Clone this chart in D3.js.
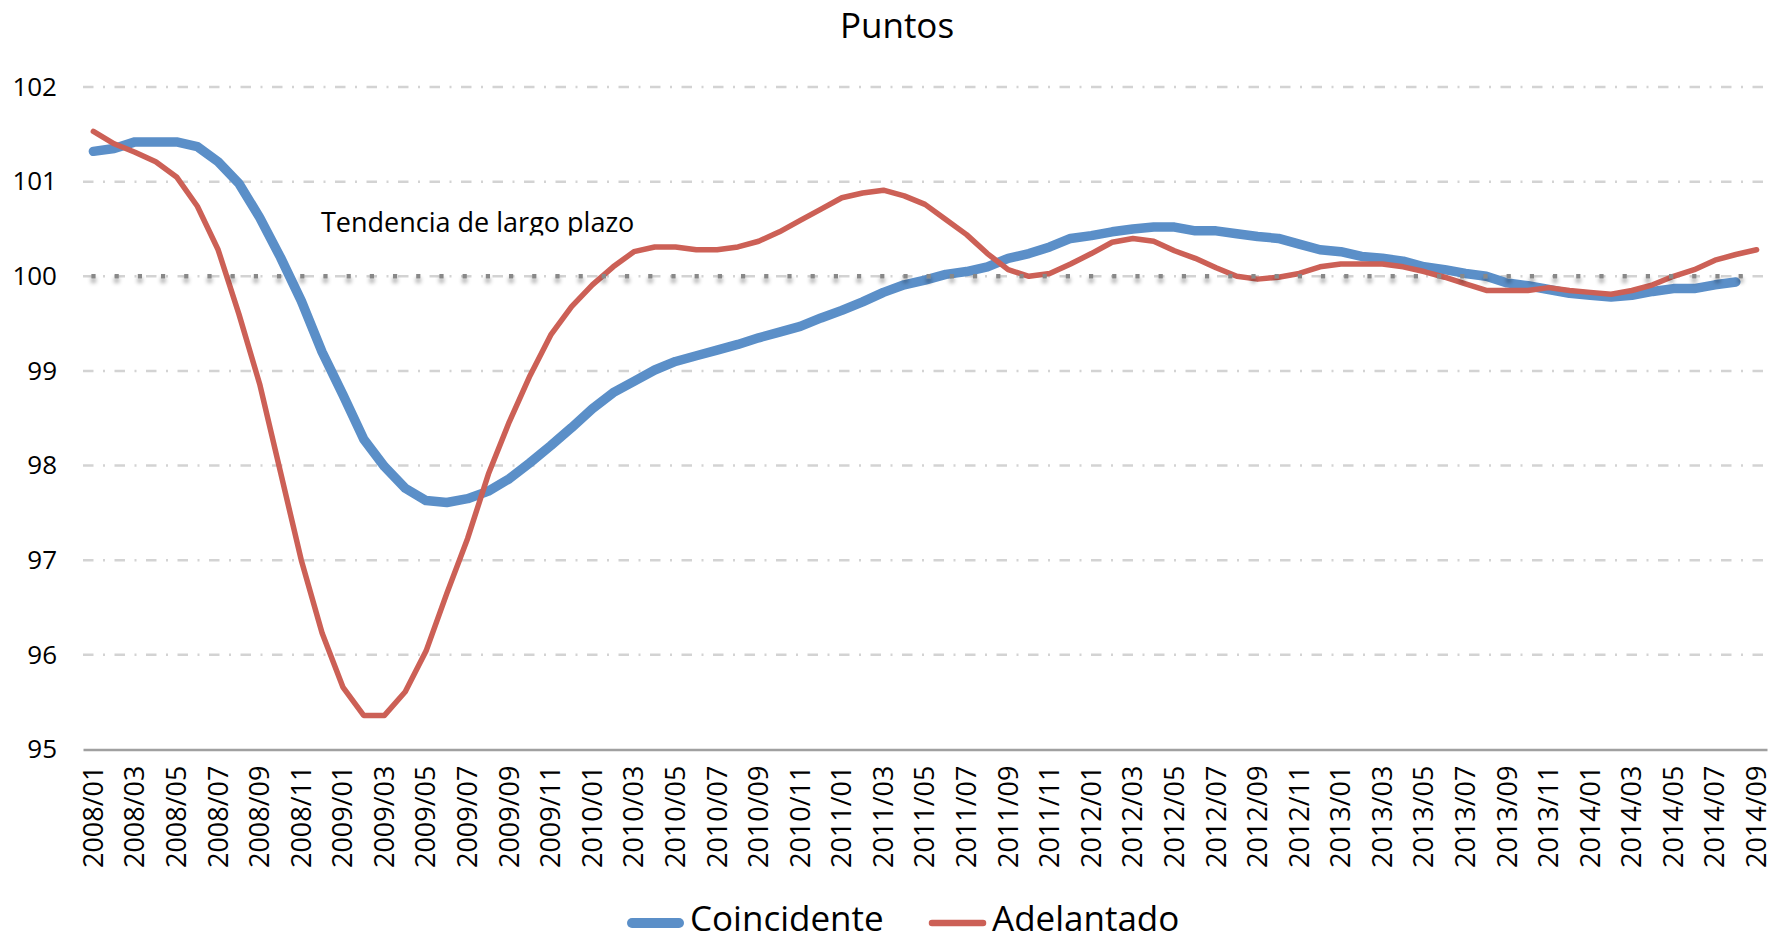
<!DOCTYPE html>
<html>
<head>
<meta charset="utf-8">
<script src="https://cdn.jsdelivr.net/npm/d3@7"></script>
<style>
  html, body { margin: 0; padding: 0; background: #fff; }
  svg { display: block; font-family: "Open Sans", sans-serif; }
</style>
</head>
<body>
<svg id="chart" width="1788" height="942"></svg>
<script>
// Monthly categories, 2008/01 – 2014/09
const months = [
  "2008/01","2008/02","2008/03","2008/04","2008/05","2008/06","2008/07","2008/08","2008/09","2008/10","2008/11","2008/12",
  "2009/01","2009/02","2009/03","2009/04","2009/05","2009/06","2009/07","2009/08","2009/09","2009/10","2009/11","2009/12",
  "2010/01","2010/02","2010/03","2010/04","2010/05","2010/06","2010/07","2010/08","2010/09","2010/10","2010/11","2010/12",
  "2011/01","2011/02","2011/03","2011/04","2011/05","2011/06","2011/07","2011/08","2011/09","2011/10","2011/11","2011/12",
  "2012/01","2012/02","2012/03","2012/04","2012/05","2012/06","2012/07","2012/08","2012/09","2012/10","2012/11","2012/12",
  "2013/01","2013/02","2013/03","2013/04","2013/05","2013/06","2013/07","2013/08","2013/09","2013/10","2013/11","2013/12",
  "2014/01","2014/02","2014/03","2014/04","2014/05","2014/06","2014/07","2014/08","2014/09"
];

// Composite indicator, coincident (ends 2014/08)
const coincidente = [
  101.32,101.35,101.42,101.42,101.42,101.37,101.21,100.98,100.62,100.20,
  99.74,99.20,98.75,98.28,97.99,97.76,97.63,97.61,97.65,97.73,
  97.86,98.03,98.21,98.40,98.60,98.77,98.89,99.01,99.10,99.16,
  99.22,99.28,99.35,99.41,99.47,99.56,99.64,99.73,99.83,99.91,
  99.96,100.02,100.05,100.10,100.19,100.24,100.31,100.40,100.43,100.47,
  100.50,100.52,100.52,100.48,100.48,100.45,100.42,100.40,100.34,100.28,
  100.26,100.21,100.19,100.16,100.10,100.07,100.03,100.00,99.93,99.90,
  99.86,99.82,99.80,99.78,99.80,99.84,99.87,99.87,99.91,99.94
];

// Composite indicator, leading (ends 2014/09)
const adelantado = [
  101.53,101.40,101.31,101.21,101.05,100.74,100.28,99.60,98.86,97.93,
  97.00,96.23,95.66,95.36,95.36,95.61,96.04,96.65,97.23,97.91,
  98.46,98.95,99.38,99.68,99.91,100.10,100.26,100.31,100.31,100.28,
  100.28,100.31,100.37,100.47,100.59,100.71,100.83,100.88,100.91,100.85,
  100.76,100.60,100.44,100.24,100.07,100.00,100.03,100.13,100.24,100.36,
  100.40,100.37,100.27,100.19,100.09,100.00,99.97,99.99,100.03,100.10,
  100.13,100.13,100.13,100.10,100.05,99.99,99.92,99.85,99.85,99.85,
  99.88,99.85,99.83,99.81,99.85,99.91,100.00,100.07,100.17,100.23,
  100.28
];

// Long-run trend level
const trendLevel = 100;

const yTicks = [95, 96, 97, 98, 99, 100, 101, 102];
const xTickLabels = months.filter((m, i) => i % 2 === 0);

const seriesNames = ["Coincidente", "Adelantado"];
const colors = { Coincidente: "#5b8fc8", Adelantado: "#cc6056" };

const plot = { left: 83, right: 1767, top: 87, bottom: 749.5 };

const svg = d3.select("#chart");

const x = d3.scaleBand().domain(months).range([plot.left, plot.right]).paddingInner(0).paddingOuter(0);
const cx = m => x(m) + x.bandwidth() / 2;
const y = d3.scaleLinear().domain([95, 102]).range([plot.bottom, plot.top]);

// soft shadow under the trend markers
const defs = svg.append("defs");
const f = defs.append("filter").attr("id", "trendShadow")
  .attr("filterUnits", "userSpaceOnUse")
  .attr("x", 0).attr("y", 0).attr("width", 1788).attr("height", 942);
f.append("feDropShadow").attr("dx", 0).attr("dy", 4).attr("stdDeviation", 2.2)
  .attr("flood-color", "#000").attr("flood-opacity", 0.45);

defs.append("clipPath").attr("id", "noteClip")
  .append("rect").attr("x", 300).attr("y", 190).attr("width", 400).attr("height", 45.5);

// horizontal gridlines
svg.append("g").selectAll("line")
  .data(yTicks.filter(v => v > 95))
  .join("line")
  .attr("x1", plot.left).attr("x2", plot.right)
  .attr("y1", d => y(d)).attr("y2", d => y(d))
  .attr("stroke", "#d3d3d3").attr("stroke-width", 2.5)
  .attr("stroke-dasharray", "10.5,9.5,2,9.5");

// y axis labels
const yAxis = svg.append("g").attr("transform", `translate(${plot.left},0)`)
  .call(d3.axisLeft(y).tickValues(yTicks).tickSize(0).tickPadding(26).tickFormat(d3.format("d")));
yAxis.select(".domain").remove();
yAxis.selectAll("text").attr("font-size", 26).attr("fill", "#000").attr("font-family", "Open Sans, sans-serif");

// x axis
const xAxis = svg.append("g").attr("transform", `translate(0,${plot.bottom})`)
  .call(d3.axisBottom(x).tickValues(xTickLabels).tickSize(0).tickSizeOuter(0));
xAxis.select(".domain").attr("stroke", "#a0a0a0").attr("stroke-width", 2.5);
xAxis.selectAll("text")
  .attr("font-size", 27).attr("fill", "#000").attr("font-family", "Open Sans, sans-serif")
  .attr("transform", "rotate(-90)")
  .attr("text-anchor", "end")
  .attr("x", -16).attr("y", 0).attr("dy", "0.35em");

// series lines
const line = d3.line().x((d, i) => cx(months[i])).y(d => y(d));

svg.append("path").datum(coincidente)
  .attr("d", line).attr("fill", "none")
  .attr("stroke", colors.Coincidente).attr("stroke-width", 9.5)
  .attr("stroke-linecap", "round").attr("stroke-linejoin", "round");

svg.append("path").datum(adelantado)
  .attr("d", line).attr("fill", "none")
  .attr("stroke", colors.Adelantado).attr("stroke-width", 5.5)
  .attr("stroke-linecap", "round").attr("stroke-linejoin", "round");

// long-run trend: square-dot line across the categories
svg.append("line")
  .attr("x1", cx(months[0]) - 2).attr("x2", cx(months[months.length - 1]))
  .attr("y1", y(trendLevel)).attr("y2", y(trendLevel))
  .attr("stroke", "#888888").attr("stroke-width", 4.5)
  .attr("stroke-dasharray", "4.2,19")
  .attr("filter", "url(#trendShadow)");

svg.append("text")
  .attr("x", 321).attr("y", 231.5)
  .attr("font-size", 27).attr("fill", "#000")
  .attr("clip-path", "url(#noteClip)")
  .text("Tendencia de largo plazo");

// title
svg.append("text")
  .attr("x", 897).attr("y", 38)
  .attr("text-anchor", "middle")
  .attr("font-size", 35).attr("fill", "#000")
  .text("Puntos");

// legend
const legendY = 923;
const legendItems = [
  { name: seriesNames[0], x0: 632, x1: 679, tx: 690, w: 10 },
  { name: seriesNames[1], x0: 932, x1: 983, tx: 992, w: 6.5 }
];
const lg = svg.append("g");
legendItems.forEach(it => {
  lg.append("line")
    .attr("x1", it.x0).attr("x2", it.x1).attr("y1", legendY).attr("y2", legendY)
    .attr("stroke", colors[it.name]).attr("stroke-width", it.w).attr("stroke-linecap", "round");
  lg.append("text")
    .attr("x", it.tx).attr("y", legendY + 8)
    .attr("font-size", 35).attr("fill", "#000")
    .text(it.name);
});
</script>
</body>
</html>
